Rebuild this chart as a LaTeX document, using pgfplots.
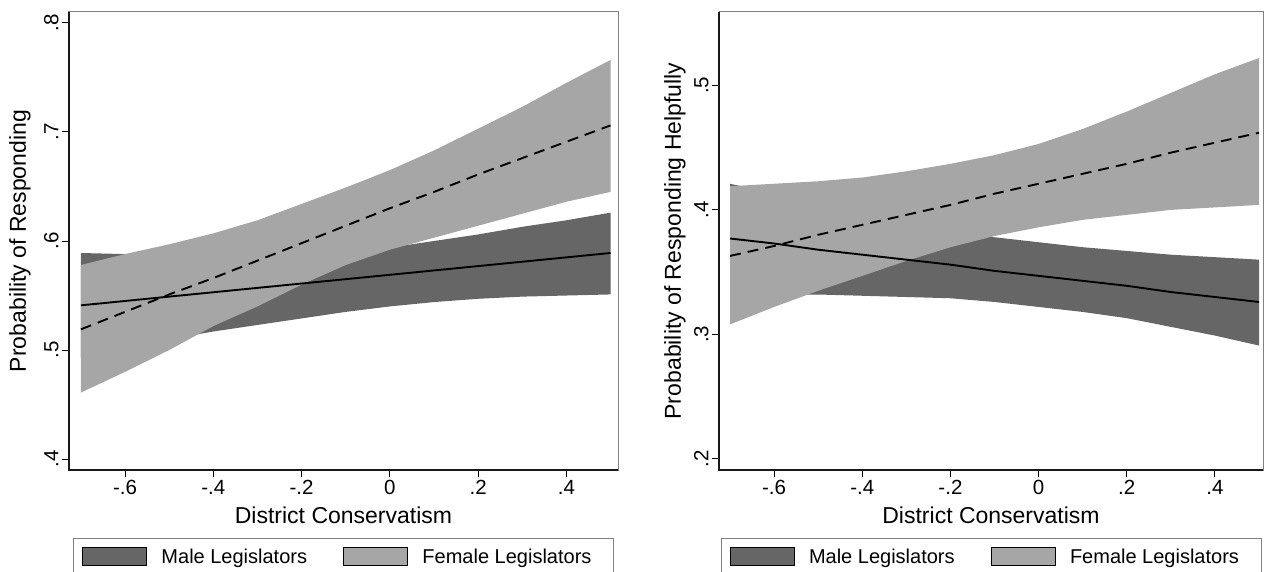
\documentclass[border=0pt]{standalone}
\usepackage{pgfplots}
\pgfplotsset{compat=1.18}
\usepackage{pgfplotstable}
\usepgfplotslibrary{fillbetween}
\usepackage{fontspec}
\setmainfont{Liberation Sans}
\definecolor{maledark}{RGB}{102,102,102}
\definecolor{femlight}{RGB}{166,166,166}
\definecolor{framegray}{RGB}{130,130,130}

\pgfplotstableread{
x     mlo    mhi    mfit   flo    fhi    ffit
-0.7  0.493  0.589  0.541  0.461  0.578  0.519
-0.6  0.502  0.588  0.545  0.480  0.588  0.535
-0.5  0.510  0.587  0.549  0.500  0.597  0.551
-0.4  0.517  0.586  0.553  0.522  0.607  0.566
-0.3  0.523  0.586  0.557  0.540  0.619  0.582
-0.2  0.529  0.588  0.561  0.560  0.634  0.598
-0.1  0.535  0.591  0.565  0.578  0.649  0.614
0.0   0.540  0.594  0.569  0.592  0.665  0.630
0.1   0.544  0.600  0.573  0.603  0.683  0.645
0.2   0.547  0.606  0.577  0.614  0.703  0.661
0.3   0.549  0.613  0.581  0.625  0.723  0.676
0.4   0.550  0.619  0.585  0.636  0.745  0.691
0.5   0.551  0.626  0.589  0.645  0.766  0.706
}\leftdata

\pgfplotstableread{
x     mlo    mhi    mfit   flo    fhi    ffit
-0.7  0.333  0.421  0.377  0.308  0.419  0.363
-0.6  0.332  0.413  0.373  0.322  0.421  0.371
-0.5  0.332  0.405  0.368  0.335  0.423  0.380
-0.4  0.331  0.398  0.364  0.347  0.426  0.388
-0.3  0.330  0.390  0.360  0.359  0.431  0.396
-0.2  0.329  0.384  0.356  0.370  0.437  0.404
-0.1  0.326  0.378  0.351  0.379  0.444  0.413
0.0   0.322  0.374  0.347  0.386  0.453  0.421
0.1   0.318  0.370  0.343  0.392  0.465  0.429
0.2   0.313  0.367  0.339  0.396  0.479  0.437
0.3   0.306  0.364  0.334  0.400  0.494  0.446
0.4   0.299  0.362  0.330  0.402  0.509  0.454
0.5   0.291  0.360  0.326  0.404  0.522  0.462
}\rightdata

\pgfplotsset{
  statastyle/.style={
    scale only axis,
    height=458pt,
    font=\fontsize{23}{26}\selectfont,
    tick label style={font=\fontsize{20.5}{23}\selectfont},
    axis line style={draw=framegray, line width=1pt},
    tick pos=left,
    tick align=outside,
    major tick length=7pt,
    every tick/.style={black, line width=1pt},
    xtick={-0.6,-0.4,-0.2,0,0.2,0.4},
    xticklabels={-.6,-.4,-.2,0,.2,.4},
    yticklabel style={rotate=90, anchor=south},
    xlabel={District Conservatism},
    every axis x label/.style={at={(rel axis cs:0.5,-0.0983)}, anchor=center},
    legend columns=2,
    legend cell align=left,
    legend image code/.code={\fill[##1] (0pt,-9pt) rectangle (64pt,9pt);},
    legend style={anchor=north, draw=framegray, line width=1pt,
      font=\fontsize{20}{23}\selectfont,
      inner xsep=9pt, inner ysep=8pt,
      /tikz/every odd column/.append style={column sep=12pt},
      /tikz/every even column/.append style={column sep=0pt}},
  }
}

\begin{document}
\begin{tikzpicture}

\begin{axis}[statastyle,
  name=L,
  width=549pt,
  xmin=-0.727, xmax=0.517,
  ymin=0.39, ymax=0.81,
  ytick={0.4,0.5,0.6,0.7,0.8},
  yticklabels={.4,.5,.6,.7,.8},
  ylabel={Probability of Responding},
  every axis y label/.style={at={(rel axis cs:-0.0893,0.5)}, rotate=90, anchor=center},
  legend style={at={(0.5,-0.1485)}},
]
\addplot[draw=none, name path=lmlo, forget plot] table[x=x, y=mlo]{\leftdata};
\addplot[draw=none, name path=lmhi, forget plot] table[x=x, y=mhi]{\leftdata};
\addplot[draw=none, name path=lflo, forget plot] table[x=x, y=flo]{\leftdata};
\addplot[draw=none, name path=lfhi, forget plot] table[x=x, y=fhi]{\leftdata};
\addplot[fill=maledark, draw=none, forget plot] fill between[of=lmlo and lmhi];
\addplot[fill=femlight, draw=none, forget plot] fill between[of=lflo and lfhi];
\addplot[black, line width=1.9pt, forget plot] table[x=x, y=mfit]{\leftdata};
\addplot[black, line width=1.9pt, dash pattern=on 11pt off 7pt, forget plot] table[x=x, y=ffit]{\leftdata};
\addlegendimage{fill=maledark}
\addlegendentry{\makebox[180pt][l]{Male Legislators}}
\addlegendimage{fill=femlight}
\addlegendentry{\makebox[180pt][l]{Female Legislators}}
\end{axis}
\draw[black!90, line width=1.4pt] (L.north west) -- (L.south west) -- (L.south east);

\begin{axis}[statastyle,
  name=R,
  at={(650pt,0pt)}, anchor=south west,
  width=544pt,
  xmin=-0.725, xmax=0.509,
  ymin=0.191, ymax=0.559,
  ytick={0.2,0.3,0.4,0.5},
  yticklabels={.2,.3,.4,.5},
  ylabel={Probability of Responding Helpfully},
  every axis y label/.style={at={(rel axis cs:-0.081,0.5)}, rotate=90, anchor=center},
  legend style={at={(0.5,-0.1485)}},
]
\addplot[draw=none, name path=rmlo, forget plot] table[x=x, y=mlo]{\rightdata};
\addplot[draw=none, name path=rmhi, forget plot] table[x=x, y=mhi]{\rightdata};
\addplot[draw=none, name path=rflo, forget plot] table[x=x, y=flo]{\rightdata};
\addplot[draw=none, name path=rfhi, forget plot] table[x=x, y=fhi]{\rightdata};
\addplot[fill=maledark, draw=none, forget plot] fill between[of=rmlo and rmhi];
\addplot[fill=femlight, draw=none, forget plot] fill between[of=rflo and rfhi];
\addplot[black, line width=1.9pt, forget plot] table[x=x, y=mfit]{\rightdata};
\addplot[black, line width=1.9pt, dash pattern=on 11pt off 7pt, forget plot] table[x=x, y=ffit]{\rightdata};
\addlegendimage{fill=maledark}
\addlegendentry{\makebox[180pt][l]{Male Legislators}}
\addlegendimage{fill=femlight}
\addlegendentry{\makebox[180pt][l]{Female Legislators}}
\end{axis}
\draw[black!90, line width=1.4pt] (R.north west) -- (R.south west) -- (R.south east);

\pgfresetboundingbox
\path[use as bounding box] (-69pt,-101pt) rectangle (1196pt,470pt);
\end{tikzpicture}
\end{document}
